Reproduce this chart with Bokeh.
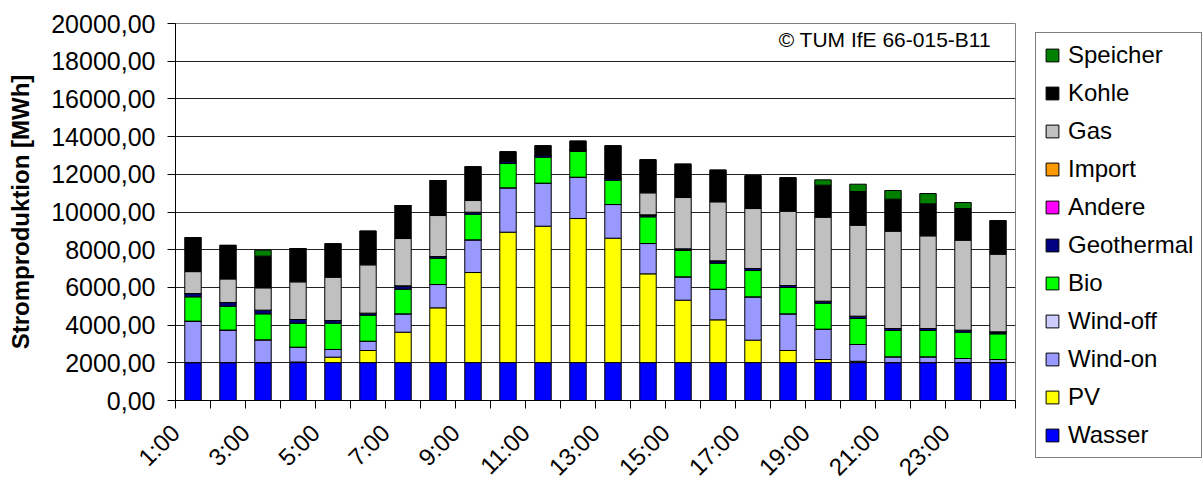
import math
from bokeh.plotting import figure
from bokeh.models import (ColumnDataSource, FixedTicker, CustomJSTickFormatter,
                          Legend, LegendItem, Label)
from bokeh.embed import file_html
from bokeh.resources import INLINE

# Hourly electricity production by source [MWh]
hours = ["%d:00" % h for h in range(1, 25)]

wasser     = [2010] * 24
pv         = [0, 0, 0, 30, 289, 642, 1614, 2905, 4779, 6919, 7238, 7644,
              6601, 4709, 3312, 2269, 1191, 642, 165, 70, 0, 0, 0, 0]
wind_on    = [2201, 1726, 1208, 789, 407, 495, 973, 1238, 1733, 2352, 2281, 2192,
              1786, 1609, 1238, 1626, 2297, 1945, 1609, 890, 307, 307, 218, 165]
wind_off   = [0] * 24
bio        = [1287, 1268, 1379, 1273, 1396, 1379, 1308, 1397, 1362, 1290, 1379, 1363,
              1291, 1415, 1397, 1379, 1397, 1397, 1379, 1380, 1396, 1396, 1396, 1361]
geothermal = [176, 194, 195, 195, 141, 107, 178, 88, 105, 106, 90, 90,
              88, 106, 88, 124, 107, 106, 106, 124, 106, 106, 106, 106]
andere     = [0] * 24
import_    = [0] * 24
gas        = [1163, 1251, 1185, 1997, 2299, 2563, 2510, 2175, 620, 0, 0, 0,
              0, 1167, 2723, 3131, 3182, 3944, 4456, 4826, 5163, 4916, 4775, 4121]
kohle      = [1797, 1780, 1679, 1769, 1768, 1786, 1751, 1857, 1786, 514, 511, 457,
              1733, 1750, 1768, 1679, 1734, 1767, 1698, 1786, 1697, 1697, 1679, 1768]
speicher   = [0, 0, 318, 0, 0, 0, 0, 0, 0, 0, 0, 0,
              0, 0, 0, 0, 0, 0, 282, 389, 460, 548, 319, 0]

series = ["Wasser", "PV", "Wind-on", "Wind-off", "Bio", "Geothermal",
          "Andere", "Import", "Gas", "Kohle", "Speicher"]
values = [wasser, pv, wind_on, wind_off, bio, geothermal,
          andere, import_, gas, kohle, speicher]
colors = ["#0000FF", "#FFFF00", "#9999FF", "#CCCCFF", "#00FF00", "#000080",
          "#FF00FF", "#FF9900", "#C0C0C0", "#000000", "#008000"]

y_ticks = list(range(0, 20001, 2000))

xs = list(range(1, len(hours) + 1))
data = {"x": xs}
for name, vals in zip(series, values):
    data[name] = vals
source = ColumnDataSource(data)

FONT = "Liberation Sans"

p = figure(frame_width=840, frame_height=377,
           x_range=(0.5, len(hours) + 0.5), y_range=(0, 20000),
           output_backend="svg", toolbar_location=None,
           min_border_left=175, min_border_right=10, min_border_top=23,
           min_border_bottom=86)
p.background_fill_color = "white"
p.border_fill_color = "white"
p.outline_line_color = "#808080"
p.outline_line_width = 1

renderers = p.vbar_stack(series, x="x", width=0.47, source=source,
                         fill_color=colors, line_color="black", line_width=1)

# grid
p.xgrid.visible = False
p.ygrid.ticker = FixedTicker(ticks=y_ticks)
p.ygrid.grid_line_color = "#222222"
p.ygrid.grid_line_width = 1

# y axis
p.yaxis.ticker = FixedTicker(ticks=y_ticks)
p.yaxis.formatter = CustomJSTickFormatter(
    code="return tick.toFixed(2).replace('.', ',');")
p.yaxis.axis_label = "Stromproduktion [MWh]"
p.yaxis.axis_label_text_font = FONT
p.yaxis.axis_label_text_font_size = "24px"
p.yaxis.axis_label_text_font_style = "bold"
p.yaxis.axis_label_text_color = "black"
p.yaxis.axis_label_standoff = 14
p.yaxis.major_label_text_font = FONT
p.yaxis.major_label_text_font_size = "25px"
p.yaxis.major_label_text_color = "black"
p.yaxis.major_label_standoff = 12
p.yaxis.major_tick_out = 8
p.yaxis.major_tick_in = 0
p.yaxis.minor_tick_line_color = None
p.yaxis.axis_line_color = "black"
p.yaxis.major_tick_line_color = "black"

# x axis: tick marks between the bars, slanted labels on every second hour;
# the (invisible) major ticks sit half a slot left of the bar so that the
# rotated label ends just below-left of its bar
label_shift = 0.5
label_pos = [x - label_shift for x in xs[::2]]
boundaries = [x - 0.5 for x in xs] + [xs[-1] + 0.5]
p.xaxis.ticker = FixedTicker(ticks=label_pos, minor_ticks=boundaries)
p.xaxis.formatter = CustomJSTickFormatter(
    args=dict(labels=hours, shift=label_shift),
    code="return labels[Math.round(tick + shift) - 1];")
p.xaxis.major_label_orientation = math.pi / 4
p.xaxis.major_label_text_font = FONT
p.xaxis.major_label_text_font_size = "24px"
p.xaxis.major_label_text_color = "black"
p.xaxis.major_label_standoff = 20
p.xaxis.major_tick_out = 0
p.xaxis.major_tick_in = 0
p.xaxis.major_tick_line_color = None
p.xaxis.minor_tick_out = 8
p.xaxis.minor_tick_in = 0
p.xaxis.minor_tick_line_color = "black"
p.xaxis.axis_line_color = "black"

# legend in the right-hand panel, top entry = top of the stack
items = [LegendItem(label=name, renderers=[r])
         for name, r in zip(series, renderers)][::-1]
legend = Legend(items=items, location=(20, -58))
legend.label_text_font = FONT
legend.label_text_font_size = "24px"
legend.label_text_color = "black"
legend.glyph_width = 16
legend.glyph_height = 16
legend.label_standoff = 8
legend.spacing = 10
legend.padding = 8
legend.margin = 0
legend.border_line_color = "black"
legend.border_line_width = 1
legend.background_fill_color = "white"
legend.background_fill_alpha = 1
p.add_layout(legend, "right")

# source note
p.add_layout(Label(x=23.8, y=19140, text="\u00a9 TUM IfE 66-015-B11",
                   text_align="right", text_baseline="middle",
                   text_font=FONT, text_font_size="21px",
                   text_color="black"))

open("out.html", "w").write(file_html(p, INLINE))
